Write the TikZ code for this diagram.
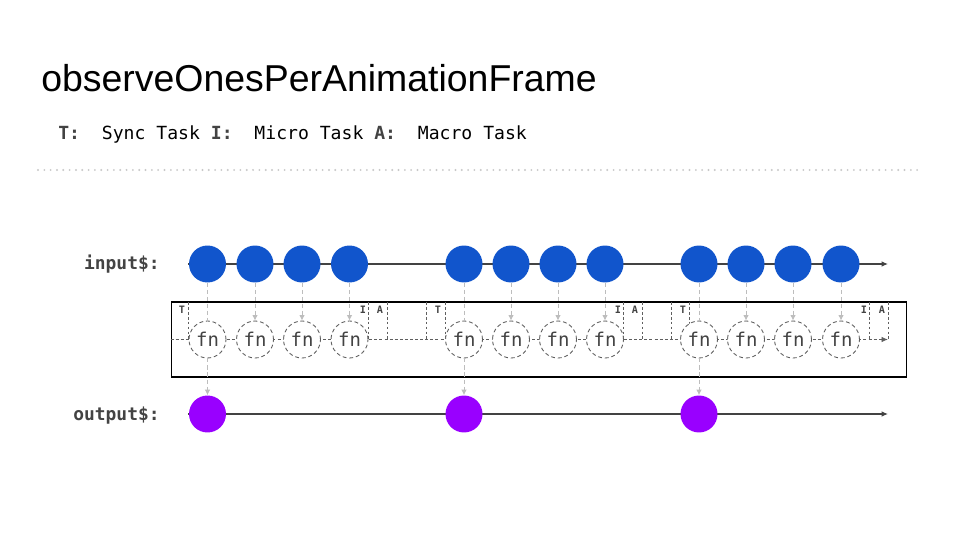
\documentclass[tikz,border=0pt]{standalone}
\usepackage{fontspec}
\setmainfont{Liberation Sans}
\setmonofont{DejaVu Sans Mono}
\usetikzlibrary{arrows.meta, positioning}
\definecolor{InBlue}{HTML}{1155CC}
\definecolor{OutPurple}{HTML}{9900FF}
\definecolor{LabelGray}{HTML}{434343}
\definecolor{DashGray}{HTML}{5F5F5F}
\definecolor{FeedGray}{HTML}{BDBDBD}
\definecolor{DotGray}{HTML}{C8C8C8}
\tikzset{
  titletext/.style={anchor=base west, inner sep=0pt, font=\fontsize{21.3}{25}\selectfont},
  legendtext/.style={anchor=base west, inner sep=0pt, font=\ttfamily\fontsize{10.3}{12}\selectfont},
  streamlabel/.style={anchor=base east, inner sep=0pt, font=\ttfamily\bfseries\fontsize{10.2}{12}\selectfont, text=LabelGray},
  inball/.style={circle, fill=InBlue, minimum size=0.74cm, inner sep=0pt},
  outball/.style={circle, fill=OutPurple, minimum size=0.74cm, inner sep=0pt},
  fnball/.style={circle, draw=DashGray, line width=0.5pt, dash pattern=on 2.2pt off 1.6pt, fill=white, minimum size=0.74cm, inner sep=0pt, font=\ttfamily\fontsize{10.8}{12}\selectfont, text=LabelGray},
  schedbox/.style={draw=black, line width=0.6pt, minimum width=14.72cm, minimum height=1.5cm, inner sep=0pt},
  tasktag/.style={anchor=north, inner sep=0pt, font=\ttfamily\bfseries\fontsize{5.8}{7}\selectfont, text=LabelGray},
  tickline/.style={draw=DashGray, line width=0.45pt, dash pattern=on 1.6pt off 1.2pt},
  sepline/.style={draw=DotGray, line width=1.2pt, line cap=round, dash pattern=on 0pt off 3.6pt},
  timeline/.style={-{Latex[length=1.3mm, width=1.1mm]}, draw=LabelGray, line width=0.6pt},
  dashtimeline/.style={-{Latex[length=1.3mm, width=1.1mm]}, draw=DashGray, line width=0.5pt, dash pattern=on 1.7pt off 1.2pt},
  feedline/.style={draw=FeedGray, line width=0.5pt, dash pattern=on 2.3pt off 1.7pt},
  feedarrow/.style={-{Latex[length=1.1mm, width=1.1mm]}, draw=FeedGray, line width=0.5pt, dash pattern=on 2.3pt off 1.7pt}
}

\begin{document}
\begin{tikzpicture}[x=0.02cm, y=-0.02cm]
\useasboundingbox[fill=white] (0,0) rectangle (960,540);
% heading and legend
\node[titletext] (title) at (41,92) {observeOnesPerAnimationFrame};
\node[legendtext] (legend) at (58,140) {\textcolor{LabelGray}{\bfseries T:}~~Sync~Task~\textcolor{LabelGray}{\bfseries I:}~~Micro~Task~\textcolor{LabelGray}{\bfseries A:}~~Macro~Task};
\draw[sepline] (38,170) -- (920,170);

% stream labels
\node[streamlabel] (inlabel) at (160,270) {input\$:};
\node[streamlabel] (outlabel) at (160,420) {output\$:};

% scheduler box with task marks
\node[schedbox] (sched) at (539,339.5) {};
\draw[tickline] (188,302) -- (188,339);
\draw[tickline] (368,302) -- (368,339);
\draw[tickline] (387,302) -- (387,339);
\draw[tickline] (426,302) -- (426,339);
\draw[tickline] (445,302) -- (445,339);
\draw[tickline] (623,302) -- (623,339);
\draw[tickline] (642,302) -- (642,339);
\draw[tickline] (671,302) -- (671,339);
\draw[tickline] (689,302) -- (689,339);
\draw[tickline] (869,302) -- (869,339);
\draw[tickline] (888,302) -- (888,339);
\node[tasktag] (tag-t1) at (182,305.5) {T};
\node[tasktag] (tag-i1) at (363,305.5) {I};
\node[tasktag] (tag-a1) at (380,305.5) {A};
\node[tasktag] (tag-t2) at (438,305.5) {T};
\node[tasktag] (tag-i2) at (618,305.5) {I};
\node[tasktag] (tag-a2) at (635,305.5) {A};
\node[tasktag] (tag-t3) at (683,305.5) {T};
\node[tasktag] (tag-i3) at (864,305.5) {I};
\node[tasktag] (tag-a3) at (882,305.5) {A};

% time lines
\coordinate (in-start) at (188,264);
\coordinate (in-end) at (888,264);
\coordinate (fn-end) at (888,339.5);
\coordinate (out-start) at (188,414);
\coordinate (out-end) at (888,414);
\draw[timeline] (in-start) -- (in-end);
\draw[dashtimeline] (sched.west) -- (fn-end);
\draw[timeline] (out-start) -- (out-end);

% input values
\node[inball] (in1) at (207.5,264) {};
\node[inball] (in2) at (255,264) {};
\node[inball] (in3) at (302,264) {};
\node[inball] (in4) at (349.5,264) {};
\node[inball] (in5) at (464,264) {};
\node[inball] (in6) at (511,264) {};
\node[inball] (in7) at (558,264) {};
\node[inball] (in8) at (605,264) {};
\node[inball] (in9) at (699,264) {};
\node[inball] (in10) at (746,264) {};
\node[inball] (in11) at (793,264) {};
\node[inball] (in12) at (841,264) {};

% fn calls
\node[fnball] (fn1) at (207.5,339.5) {fn};
\node[fnball] (fn2) at (255,339.5) {fn};
\node[fnball] (fn3) at (302,339.5) {fn};
\node[fnball] (fn4) at (349.5,339.5) {fn};
\node[fnball] (fn5) at (464,339.5) {fn};
\node[fnball] (fn6) at (511,339.5) {fn};
\node[fnball] (fn7) at (558,339.5) {fn};
\node[fnball] (fn8) at (605,339.5) {fn};
\node[fnball] (fn9) at (699,339.5) {fn};
\node[fnball] (fn10) at (746,339.5) {fn};
\node[fnball] (fn11) at (793,339.5) {fn};
\node[fnball] (fn12) at (841,339.5) {fn};

% output values
\node[outball] (out1) at (207.5,414) {};
\node[outball] (out2) at (464,414) {};
\node[outball] (out3) at (699,414) {};

% feeds
\draw[feedline] (in1) -- (fn1);
\draw[feedarrow] (in2) -- (fn2);
\draw[feedarrow] (in3) -- (fn3);
\draw[feedarrow] (in4) -- (fn4);
\draw[feedline] (in5) -- (fn5);
\draw[feedarrow] (in6) -- (fn6);
\draw[feedarrow] (in7) -- (fn7);
\draw[feedarrow] (in8) -- (fn8);
\draw[feedline] (in9) -- (fn9);
\draw[feedarrow] (in10) -- (fn10);
\draw[feedarrow] (in11) -- (fn11);
\draw[feedarrow] (in12) -- (fn12);
\draw[feedarrow] (fn1) -- (out1);
\draw[feedarrow] (fn5) -- (out2);
\draw[feedarrow] (fn9) -- (out3);
\end{tikzpicture}
\end{document}
